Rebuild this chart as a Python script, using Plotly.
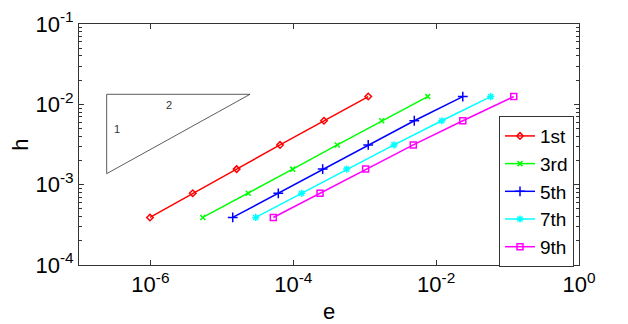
import numpy as np
import plotly.graph_objects as go

# data
h_vals = [0.000390625, 0.00078125, 0.0015625, 0.003125, 0.00625, 0.0125]
series_names = ["1st", "3rd", "5th", "7th", "9th"]
e_1st = [9.86e-7, 3.91e-6, 1.61e-5, 6.52e-5, 2.69e-4, 1.12e-3]
e_3rd = [5.40e-6, 2.34e-5, 9.82e-5, 4.13e-4, 1.73e-3, 7.62e-3]
e_5th = [1.42e-5, 6.17e-5, 2.58e-4, 1.12e-3, 4.94e-3, 2.36e-2]
e_7th = [2.98e-5, 1.31e-4, 5.60e-4, 2.57e-3, 1.20e-2, 5.81e-2]
e_9th = [5.25e-5, 2.37e-4, 1.03e-3, 4.79e-3, 2.36e-2, 1.22e-1]

# slope triangle (e, h) and its labels
tri_e = [2.44e-7, 2.48e-5, 2.44e-7, 2.44e-7]
tri_h = [1.333e-2, 1.333e-2, 1.37e-3, 1.333e-2]
tri_labels = ["1", "2"]
tri_label_e = [3.4e-7, 1.82e-6]
tri_label_h = [5.0e-3, 9.7e-3]

x_tickvals = [1e-6, 1e-4, 1e-2, 1e0]
x_ticktext = ["10<sup>-6</sup>", "10<sup>-4</sup>", "10<sup>-2</sup>", "10<sup>0</sup>"]
y_tickvals = [1e-4, 1e-3, 1e-2, 1e-1]
y_ticktext = ["10<sup>-4</sup>", "10<sup>-3</sup>", "10<sup>-2</sup>", "10<sup>-1</sup>"]

colors = ["#ff0000", "#00ff00", "#0000ff", "#00ffff", "#ff00ff"]
symbols = ["diamond-open", "x-thin-open", "cross-thin-open", "asterisk-open", "square-open"]
sizes = [5, 5, 7, 6, 6]
all_e = [e_1st, e_3rd, e_5th, e_7th, e_9th]

FONT = "Liberation Sans, Arial, sans-serif"

fig = go.Figure()

fig.add_trace(go.Scatter(x=tri_e, y=tri_h, mode="lines",
                         line=dict(color="#333333", width=0.8),
                         showlegend=False, hoverinfo="skip"))

for name, e, c, s, sz in zip(series_names, all_e, colors, symbols, sizes):
    fig.add_trace(go.Scatter(x=e, y=h_vals, mode="lines+markers", name=name,
                             line=dict(color=c, width=1.5),
                             marker=dict(symbol=s, size=sz, color=c,
                                         line=dict(color=c, width=1.5))))

for t, xe, yh in zip(tri_labels, tri_label_e, tri_label_h):
    fig.add_annotation(x=np.log10(xe), y=np.log10(yh), text=t, showarrow=False,
                       font=dict(family=FONT, size=11, color="#333333"))

minor_y = [m * 10.0 ** d for d in range(-4, -1) for m in range(2, 10)]

# the page body adds an 8 px offset, so margins are shifted to compensate
fig.update_layout(
    width=628, height=324,
    margin=dict(l=71, r=57, t=16, b=67),
    paper_bgcolor="white", plot_bgcolor="white",
    font=dict(family=FONT, size=22, color="black"),
    showlegend=True,
    legend=dict(x=0.99, y=0.618, xanchor="right", yanchor="top",
                bgcolor="white", bordercolor="#333333", borderwidth=1,
                font=dict(family=FONT, size=19), itemwidth=30,
                tracegroupgap=0),
    xaxis=dict(type="log", range=[-7, 0], tickvals=x_tickvals, ticktext=x_ticktext,
               ticks="inside", ticklen=5, tickcolor="#333333", automargin=False,
               showgrid=False, zeroline=False,
               showline=True, linecolor="#333333", linewidth=1, mirror="ticks",
               title=dict(text="e", standoff=7, font=dict(size=22))),
    yaxis=dict(type="log", range=[-4, -1], tickvals=y_tickvals, ticktext=y_ticktext,
               ticks="inside", ticklen=5, tickcolor="#333333", automargin=False,
               showgrid=False, zeroline=False,
               showline=True, linecolor="#333333", linewidth=1, mirror="ticks",
               minor=dict(tickvals=minor_y, ticks="inside", ticklen=3,
                          tickcolor="#333333", showgrid=False),
               title=dict(text="h", standoff=0, font=dict(size=22))),
)

fig.write_html("out.html")
